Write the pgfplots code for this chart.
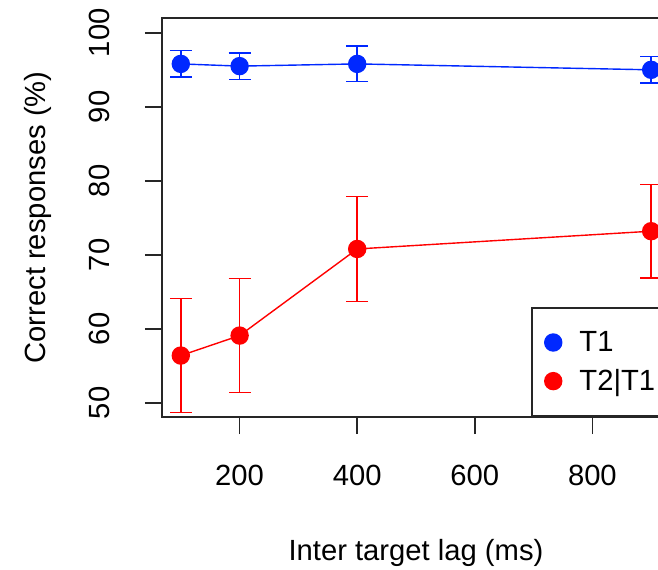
\documentclass[border=0pt]{standalone}
\usepackage{fontspec}
\setmainfont{Liberation Sans}
\usepackage{pgfplots}
\pgfplotsset{compat=1.18}
\definecolor{rblue}{RGB}{0,40,255}
\definecolor{rred}{RGB}{255,0,0}
\begin{document}
\begin{tikzpicture}
\begin{axis}[
  scale only axis, width=254pt, height=199.5pt,
  xmin=68, xmax=932, ymin=48.1, ymax=102,
  xtick={200,400,600,800}, ytick={50,60,70,80,90,100},
  xtick pos=bottom, ytick pos=left,
  tick align=outside, major tick length=8.5pt,
  tick style={black!85, line width=0.8pt},
  axis line style={black!85, line width=0.8pt},
  tick label style={font=\fontsize{14.6}{16}\selectfont, inner sep=0pt},
  /pgf/number format/assume math mode=true,
  xticklabel style={anchor=north, yshift=-15.5pt},
  yticklabel style={xshift=-17.5pt, rotate=90, anchor=south},
  every axis x label/.style={at={(axis description cs:0.5,0)}, anchor=north, inner sep=0pt, yshift=-61pt, font=\fontsize{14.6}{16}\selectfont},
  every axis y label/.style={at={(axis description cs:0,0.5)}, xshift=-55pt, rotate=90, anchor=south, inner sep=0pt, font=\fontsize{14.6}{16}\selectfont},
  xlabel={Inter target lag (ms)},
  ylabel={Correct responses (\%)},
  legend style={at={(1,0)}, anchor=south east, draw=black!85, line width=0.8pt,
    inner xsep=5pt, inner ysep=9.5pt, row sep=3.5pt,
    font=\fontsize{14.6}{16}\selectfont, cells={anchor=west}},
  legend image code/.code={\fill[#1] (4.25pt,0) circle (4.25pt); \path (-1pt,0) (15pt,0);},
]
\addplot+[rblue, line width=0.7pt, mark=*, mark size=4.25pt, mark options={fill=rblue, draw=rblue},
  error bars/.cd, y dir=both, y explicit,
  error bar style={draw=rblue, line width=0.8pt},
  error mark options={rotate=90, mark size=5.5pt, line width=0.8pt, draw=rblue}]
  coordinates {
  (100,95.8) +- (0,1.8)
  (200,95.5) +- (0,1.8)
  (400,95.8) +- (0,2.4)
  (900,95.0) +- (0,1.8)
  };
\addlegendentry{T1}
\addplot+[rred, line width=0.7pt, mark=*, mark size=4.25pt, mark options={fill=rred, draw=rred},
  error bars/.cd, y dir=both, y explicit,
  error bar style={draw=rred, line width=0.8pt},
  error mark options={rotate=90, mark size=5.5pt, line width=0.8pt, draw=rred}]
  coordinates {
  (100,56.4) +- (0,7.7)
  (200,59.1) +- (0,7.7)
  (400,70.8) +- (0,7.1)
  (900,73.2) +- (0,6.3)
  };
\addlegendentry{T2|T1}
\end{axis}
\pgfresetboundingbox
\useasboundingbox ([xshift=-81pt,yshift=-76pt]current axis.south west) rectangle ([xshift=248pt,yshift=9pt]current axis.north west);
\end{tikzpicture}
\end{document}
